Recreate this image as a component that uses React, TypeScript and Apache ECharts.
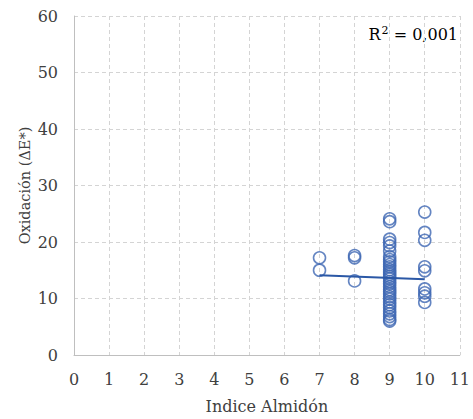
import React, { useEffect, useRef } from "react";
import * as echarts from "echarts";

// Oxidation (ΔE*) measured per starch index class
const idx7 = [17.2, 15.0];
const idx8 = [17.6, 17.2, 13.1];
const idx9 = [
  24.1, 23.6, 20.5, 19.9, 19.3, 18.4, 17.4, 16.9, 16.5, 16.0, 15.6, 15.1,
  14.7, 14.3, 13.9, 13.5, 13.0, 12.6, 12.1, 11.6, 11.2, 10.8, 10.3, 9.9,
  9.4, 8.9, 8.4, 7.8, 7.3, 6.8, 6.3, 6.0,
];
const idx10 = [25.3, 21.7, 20.3, 15.6, 14.9, 11.7, 11.0, 10.4, 9.3];

// Linear trend line endpoints (x, y)
const trendX = [7, 10];
const trendY = [14.1, 13.4];

const xTicks = [0, 11];
const yTicks = [0, 60];

const FONT = "DejaVu Serif";
const MARK = "#3d66b3";

function pairs(x: number, ys: number[]) {
  return ys.map((y) => [x, y]);
}

export default function App() {
  const ref = useRef<HTMLDivElement>(null);
  useEffect(() => {
    if (!ref.current) return;
    const chart = echarts.init(ref.current, null, { renderer: "svg" });
    const points = [
      ...pairs(7, idx7),
      ...pairs(8, idx8),
      ...pairs(9, idx9),
      ...pairs(10, idx10),
    ];
    const label = { fontFamily: FONT, fontSize: 16, color: "#404040" };
    chart.setOption({
      animation: false,
      textStyle: { fontFamily: FONT },
      grid: { left: 74, right: 10, top: 16, bottom: 64 },
      xAxis: {
        type: "value",
        min: xTicks[0],
        max: xTicks[1],
        interval: 1,
        name: "Indice Almidón",
        nameLocation: "middle",
        nameGap: 43,
        nameTextStyle: label,
        axisLine: { show: true, lineStyle: { color: "#bfbfbf", width: 1 } },
        axisTick: { show: false },
        axisLabel: { ...label, margin: 16 },
        splitLine: { show: true, lineStyle: { color: "#d4d4d4", type: [4, 3] } },
      },
      yAxis: {
        type: "value",
        min: yTicks[0],
        max: yTicks[1],
        interval: 10,
        name: "Oxidación (ΔE*)",
        nameLocation: "middle",
        nameGap: 42,
        nameMoveOverlap: false,
        nameTextStyle: { ...label, fontSize: 14.5 },
        axisLine: { show: true, lineStyle: { color: "#bfbfbf", width: 1 } },
        axisTick: { show: false },
        axisLabel: { ...label, margin: 16 },
        splitLine: { show: true, lineStyle: { color: "#d4d4d4", type: [4, 3] } },
      },
      graphic: [
        {
          type: "text",
          right: 15,
          top: 22,
          style: {
            text: "{a|R}{s|2}{a| = 0,001}",
            rich: {
              a: { fontFamily: FONT, fontSize: 16, fill: "#000", lineHeight: 20, verticalAlign: "bottom" },
              s: { fontFamily: FONT, fontSize: 11, fill: "#000", lineHeight: 14, verticalAlign: "top", padding: [3, 0, 0, 1] },
            },
          },
        },
      ],
      series: [
        {
          type: "scatter",
          data: points,
          symbol: "circle",
          symbolSize: 12,
          itemStyle: { color: "rgba(255,255,255,0)", borderColor: MARK, borderWidth: 1.6 },
          z: 3,
        },
        {
          type: "line",
          data: trendX.map((x, i) => [x, trendY[i]]),
          symbol: "none",
          lineStyle: { color: "#2b58a6", width: 2 },
          z: 4,
        },
      ],
    });
    return () => chart.dispose();
  }, []);
  return <div ref={ref} style={{ width: 473, height: 419, position: "absolute", left: 0, top: 0 }} />;
}
